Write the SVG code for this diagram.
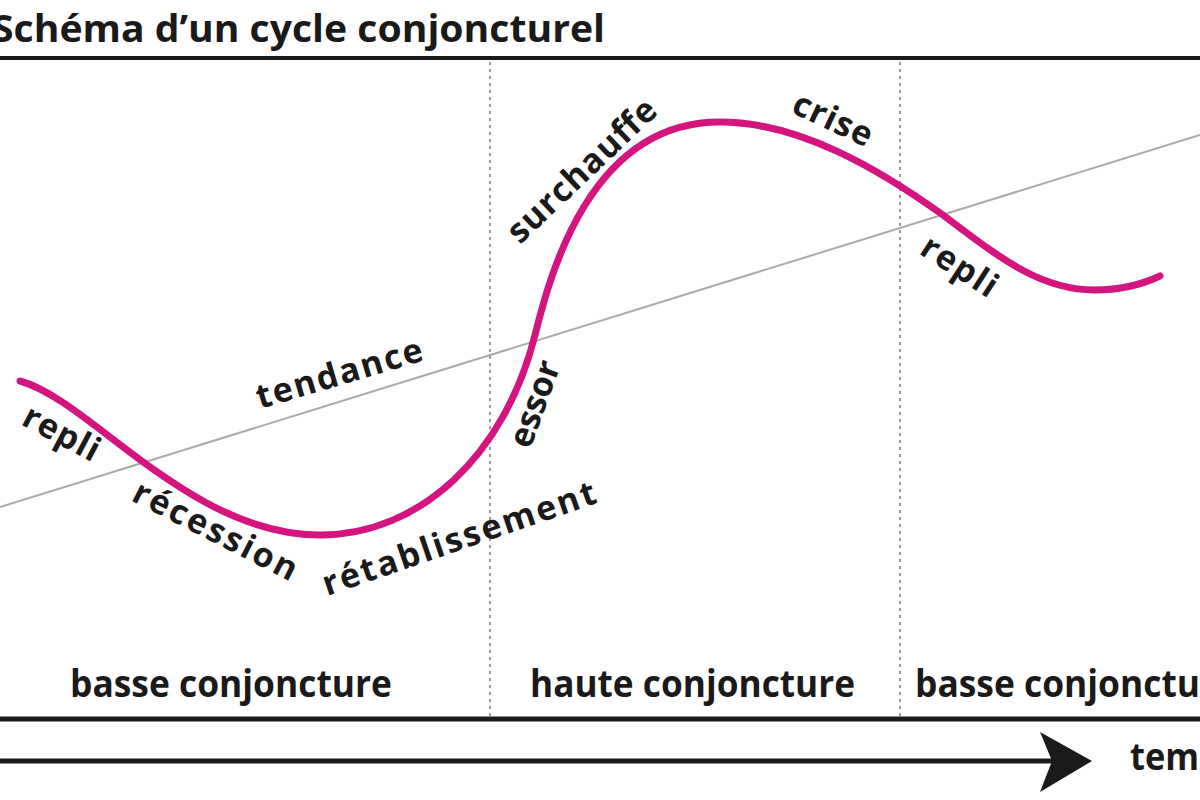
<svg xmlns="http://www.w3.org/2000/svg" width="1200" height="800" viewBox="0 0 1200 800">
<defs>
<style>
.lbl{font-family:"Open Sans","Liberation Sans",sans-serif;font-weight:bold;font-size:34px;fill:#1a1a1a;}
.band{font-family:"Open Sans","Liberation Sans",sans-serif;font-weight:bold;font-size:38px;fill:#1a1a1a;}
.rule{stroke:#1a1a1a;fill:none;}
.dot{stroke:#999;stroke-width:2;stroke-dasharray:3 4;fill:none;}
</style>
</defs>
<rect width="1200" height="800" fill="#fff"/>
<g id="title">
<text x="-8" y="42" class="band" font-size="33" textLength="613" lengthAdjust="spacingAndGlyphs">Schéma d’un cycle conjoncturel</text>
</g>
<g id="frame">
<line class="rule" x1="0" y1="58" x2="1200" y2="58" stroke-width="4"/>
<line class="dot" x1="490" y1="62" x2="490" y2="716"/>
<line class="dot" x1="900" y1="62" x2="900" y2="716"/>
<line class="rule" x1="0" y1="719" x2="1200" y2="719" stroke-width="5"/>
</g>
<g id="connectors">
<line id="trend" x1="0" y1="507" x2="1200" y2="135" stroke="#aaa" stroke-width="2"/>
<path id="cycle" d="M20,381 C90,400 190,535 320,535 C420,535 505,455 535,335 C550,275 590,122 720,122 C800,122 880,170 943,215 C1000,258 1040,290 1095,290 C1125,290 1145,283 1160,276" fill="none" stroke="#d4147f" stroke-width="7" stroke-linecap="round"/>
<line id="time-axis" class="rule" x1="0" y1="761" x2="1055" y2="761" stroke-width="5"/>
<polygon points="1040,732 1092,761 1040,792 1052,761" fill="#1a1a1a"/>
</g>
<g id="labels">
<text class="lbl" transform="translate(260,409) rotate(-16.5)" textLength="172">tendance</text>
<text class="lbl" transform="translate(20,424) rotate(28)" textLength="82">repli</text>
<text class="lbl" transform="translate(130,500) rotate(27)" textLength="180">récession</text>
<text class="lbl" transform="translate(327,596) rotate(-19)" textLength="287">rétablissement</text>
<text class="lbl" transform="translate(530,450) rotate(-70)" textLength="90">essor</text>
<text class="lbl" transform="translate(520,245) rotate(-43.5)" textLength="192">surchauffe</text>
<text class="lbl" transform="translate(790,112) rotate(25)" textLength="84">crise</text>
<text class="lbl" transform="translate(918,253) rotate(33)" textLength="84">repli</text>
</g>
<g id="bands">
<text class="band" x="70" y="697" textLength="322" lengthAdjust="spacingAndGlyphs">basse conjoncture</text>
<text class="band" x="530" y="697" textLength="325" lengthAdjust="spacingAndGlyphs">haute conjoncture</text>
<text class="band" x="915" y="697" textLength="322" lengthAdjust="spacingAndGlyphs">basse conjoncture</text>
<text class="band" x="1130" y="770" textLength="108" lengthAdjust="spacingAndGlyphs">temps</text>
</g>
</svg>
